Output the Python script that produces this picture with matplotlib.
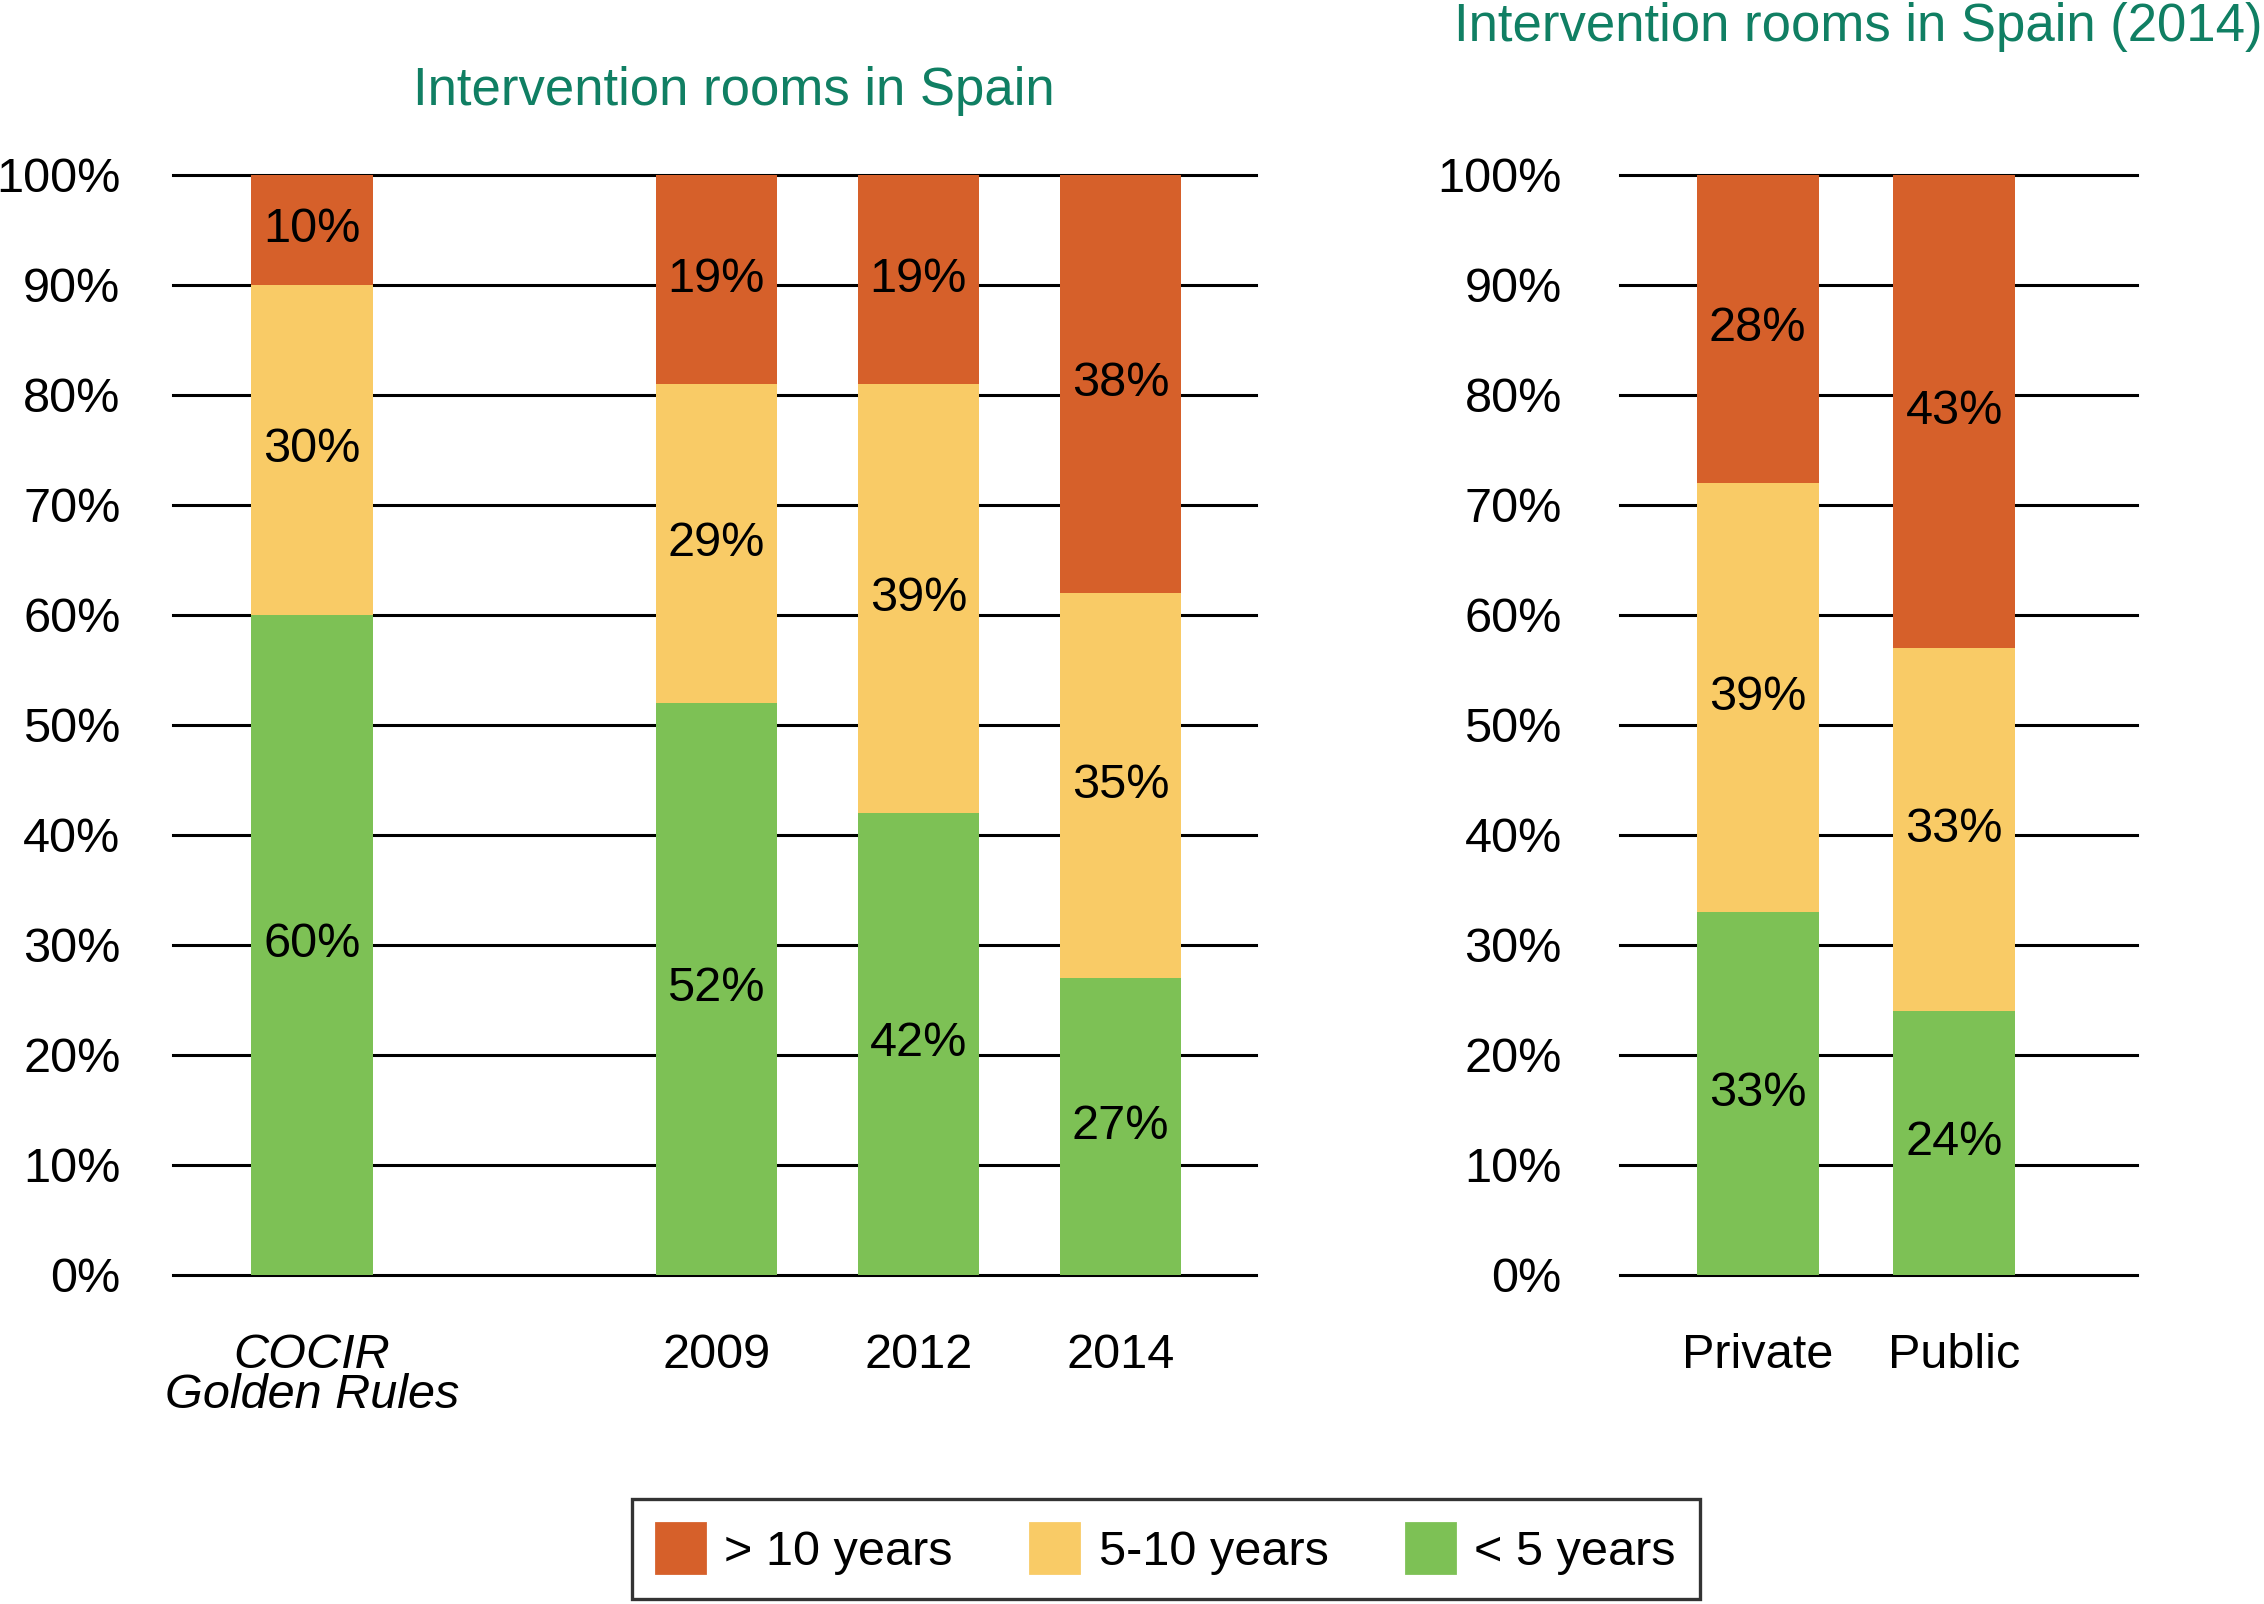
import matplotlib.pyplot as plt
from matplotlib.patches import Patch

plt.rcParams['font.family'] = ['Liberation Sans', 'DejaVu Sans']
plt.rcParams['font.size'] = 17.5

# Данные
left_labels = ['COCIR\nGolden Rules', '2009', '2012', '2014']
left_pos = [0, 2, 3, 4]
left_lt5 = [60, 52, 42, 27]
left_5to10 = [30, 29, 39, 35]
left_gt10 = [10, 19, 19, 38]

right_labels = ['Private', 'Public']
right_pos = [0, 1]
right_lt5 = [33, 24]
right_5to10 = [39, 33]
right_gt10 = [28, 43]

series_names = ['> 10 years', '5-10 years', '< 5 years']
c_gt10 = '#D6602A'
c_mid = '#F9CB66'
c_lt5 = '#7DC155'
title_color = '#107F63'

fig = plt.figure(figsize=(11.32, 8.02), dpi=200)
ax1 = fig.add_axes([0.0765, 0.2052, 0.4783, 0.6859])
ax2 = fig.add_axes([0.7156, 0.2052, 0.2283, 0.6859])


def draw_stack(ax, pos, lt5, mid, gt10, width):
    b_mid = [a for a in lt5]
    b_top = [a + b for a, b in zip(lt5, mid)]
    ax.bar(pos, lt5, width, color=c_lt5, zorder=3)
    ax.bar(pos, mid, width, bottom=b_mid, color=c_mid, zorder=3)
    ax.bar(pos, gt10, width, bottom=b_top, color=c_gt10, zorder=3)
    for i, x in enumerate(pos):
        ax.text(x, lt5[i] / 2, f'{lt5[i]}%', ha='center', va='center', zorder=4)
        ax.text(x, b_mid[i] + mid[i] / 2, f'{mid[i]}%', ha='center', va='center', zorder=4)
        ax.text(x, b_top[i] + gt10[i] / 2, f'{gt10[i]}%', ha='center', va='center', zorder=4)
    for y in range(0, 101, 10):
        ax.axhline(y, color='black', linewidth=1.1, zorder=1, clip_on=False)
    ax.set_ylim(0, 100)
    ax.set_yticks(range(0, 101, 10))
    ax.set_yticklabels([f'{y}%' for y in range(0, 101, 10)])
    ax.tick_params(axis='both', length=0)
    for s in ax.spines.values():
        s.set_visible(False)


draw_stack(ax1, left_pos, left_lt5, left_5to10, left_gt10, 0.6)
ax1.set_xlim(-0.686, 4.67)
ax1.set_xticks(left_pos)
ax1.set_xticklabels(left_labels, linespacing=0.85)
ax1.get_xticklabels()[0].set_style('italic')
ax1.tick_params(axis='x', pad=21)
ax1.tick_params(axis='y', pad=19)

draw_stack(ax2, right_pos, right_lt5, right_5to10, right_gt10, 0.62)
ax2.set_xlim(-0.70, 1.93)
ax2.set_xticks(right_pos)
ax2.set_xticklabels(right_labels)
ax2.tick_params(axis='x', pad=21)
ax2.tick_params(axis='y', pad=21)

fig.text(0.324, 0.943, 'Intervention rooms in Spain', color=title_color,
         ha='center', va='center', fontsize=19)
fig.text(0.821, 0.983, 'Intervention rooms in Spain (2014)', color=title_color,
         ha='center', va='center', fontsize=19)

handles = [Patch(color=c_gt10), Patch(color=c_mid), Patch(color=c_lt5)]
leg = fig.legend(handles, series_names, loc='lower center', bbox_to_anchor=(0.515, -0.012),
                 ncol=3, frameon=True, fancybox=False, edgecolor='black',
                 handlelength=1.0, handleheight=1.2, handletextpad=0.4,
                 columnspacing=1.6, borderpad=0.5)
leg.get_frame().set_linewidth(1.2)

fig.savefig('out.png', dpi=200)
